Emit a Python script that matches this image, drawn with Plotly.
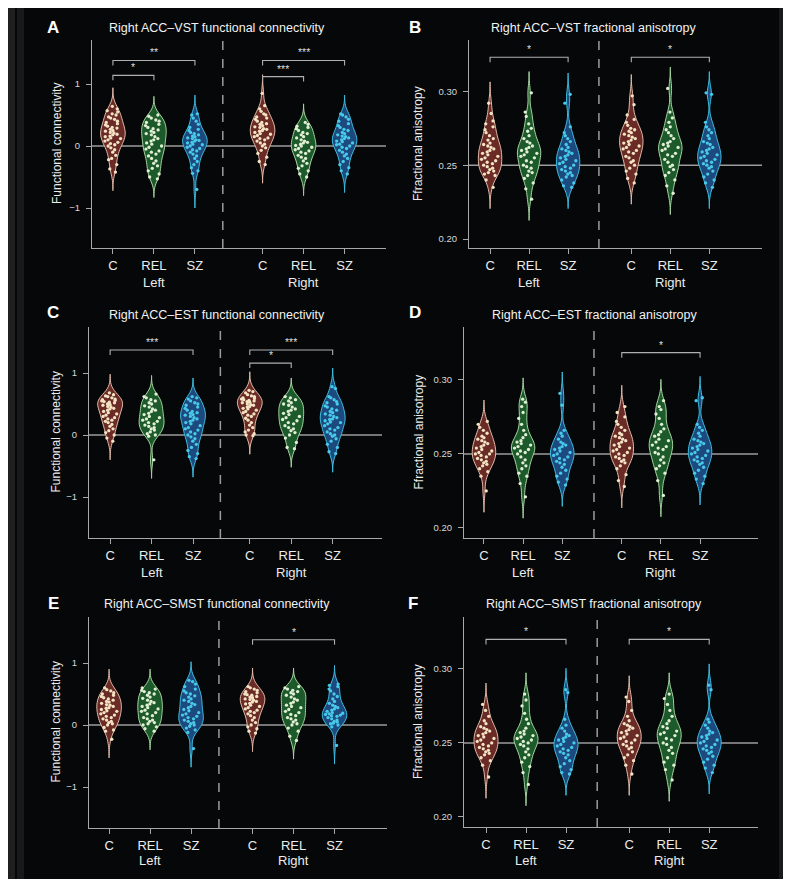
import plotly.graph_objects as go

W, H = 791, 887
OFF = 8  # browser body margin
FW, FH = W - 2 * OFF, H - 2 * OFF

groups = ["C", "REL", "SZ"]
sides = ["Left", "Right"]

# ---------------- Panel A: Right ACC-VST functional connectivity ----------------
a_left_c = [0.64, 0.6, 0.57, 0.55, 0.52, 0.5, 0.47, 0.45, 0.43, 0.4, 0.38, 0.36, 0.34, 0.32, 0.3, 0.29, 0.27, 0.25, 0.24, 0.22, 0.21, 0.19, 0.18, 0.16, 0.15, 0.13, 0.12, 0.1, 0.08, 0.06, 0.04, 0.02, 0.0, -0.03, -0.06, -0.1, -0.15, -0.2, -0.22, -0.3, -0.37, -0.42]
a_left_rel = [0.5, 0.48, 0.45, 0.42, 0.4, 0.38, 0.35, 0.33, 0.3, 0.28, 0.26, 0.24, 0.22, 0.2, 0.18, 0.15, 0.12, 0.1, 0.08, 0.05, 0.03, 0.0, -0.02, -0.05, -0.08, -0.1, -0.13, -0.16, -0.2, -0.24, -0.28, -0.32, -0.36, -0.4, -0.45, -0.5, -0.53]
a_left_sz = [0.52, 0.5, 0.45, 0.4, 0.35, 0.3, 0.27, 0.25, 0.22, 0.2, 0.18, 0.16, 0.15, 0.13, 0.12, 0.1, 0.09, 0.08, 0.06, 0.05, 0.03, 0.02, 0.0, -0.02, -0.04, -0.06, -0.08, -0.1, -0.13, -0.16, -0.2, -0.25, -0.3, -0.35, -0.4, -0.44, -0.7]
a_right_c = [0.85, 0.65, 0.6, 0.56, 0.52, 0.5, 0.47, 0.45, 0.43, 0.4, 0.38, 0.36, 0.35, 0.33, 0.31, 0.3, 0.28, 0.27, 0.25, 0.24, 0.22, 0.2, 0.19, 0.17, 0.15, 0.13, 0.12, 0.1, 0.08, 0.05, 0.03, 0.0, -0.03, -0.07, -0.12, -0.18, -0.25, -0.3]
a_right_rel = [0.38, 0.35, 0.32, 0.3, 0.28, 0.25, 0.22, 0.2, 0.18, 0.15, 0.13, 0.1, 0.08, 0.06, 0.05, 0.03, 0.01, 0.0, -0.02, -0.04, -0.06, -0.08, -0.1, -0.12, -0.15, -0.18, -0.2, -0.24, -0.28, -0.32, -0.36, -0.4, -0.45, -0.5]
a_right_sz = [0.52, 0.5, 0.47, 0.43, 0.4, 0.36, 0.33, 0.3, 0.27, 0.25, 0.22, 0.2, 0.18, 0.16, 0.15, 0.13, 0.12, 0.1, 0.08, 0.07, 0.05, 0.03, 0.02, 0.0, -0.02, -0.04, -0.07, -0.1, -0.13, -0.16, -0.2, -0.25, -0.3, -0.35, -0.4, -0.45]

# ---------------- Panel B: Right ACC-VST fractional anisotropy ----------------
b_left_c = [0.292, 0.285, 0.28, 0.278, 0.276, 0.274, 0.272, 0.27, 0.268, 0.267, 0.265, 0.264, 0.263, 0.262, 0.261, 0.26, 0.259, 0.258, 0.257, 0.256, 0.255, 0.254, 0.253, 0.252, 0.251, 0.25, 0.249, 0.248, 0.247, 0.246, 0.245, 0.244, 0.243, 0.24, 0.235]
b_left_rel = [0.299, 0.286, 0.283, 0.278, 0.275, 0.273, 0.27, 0.268, 0.266, 0.265, 0.263, 0.262, 0.261, 0.26, 0.259, 0.258, 0.257, 0.256, 0.255, 0.253, 0.252, 0.25, 0.249, 0.248, 0.246, 0.245, 0.243, 0.241, 0.238, 0.234, 0.227]
b_left_sz = [0.298, 0.292, 0.276, 0.272, 0.27, 0.268, 0.266, 0.264, 0.262, 0.261, 0.26, 0.259, 0.258, 0.257, 0.256, 0.255, 0.254, 0.253, 0.252, 0.251, 0.25, 0.249, 0.248, 0.247, 0.246, 0.245, 0.244, 0.243, 0.242, 0.24, 0.238, 0.236, 0.235]
b_right_c = [0.297, 0.291, 0.284, 0.281, 0.279, 0.277, 0.275, 0.274, 0.273, 0.272, 0.271, 0.27, 0.269, 0.268, 0.267, 0.266, 0.265, 0.264, 0.263, 0.262, 0.261, 0.26, 0.259, 0.258, 0.256, 0.255, 0.253, 0.252, 0.25, 0.248, 0.246, 0.244, 0.241, 0.238]
b_right_rel = [0.302, 0.286, 0.282, 0.279, 0.276, 0.274, 0.272, 0.27, 0.268, 0.266, 0.265, 0.264, 0.263, 0.262, 0.261, 0.26, 0.258, 0.257, 0.256, 0.254, 0.252, 0.25, 0.249, 0.247, 0.245, 0.243, 0.24, 0.236, 0.231]
b_right_sz = [0.299, 0.298, 0.279, 0.276, 0.274, 0.272, 0.27, 0.268, 0.266, 0.265, 0.264, 0.262, 0.261, 0.26, 0.259, 0.258, 0.257, 0.256, 0.255, 0.254, 0.253, 0.252, 0.251, 0.25, 0.249, 0.248, 0.246, 0.244, 0.242, 0.24, 0.238, 0.235]

# ---------------- Panel C: Right ACC-EST functional connectivity ----------------
c_left_c = [0.68, 0.65, 0.63, 0.62, 0.6, 0.58, 0.57, 0.56, 0.55, 0.54, 0.53, 0.52, 0.5, 0.49, 0.48, 0.46, 0.45, 0.43, 0.42, 0.4, 0.38, 0.36, 0.34, 0.32, 0.3, 0.28, 0.26, 0.24, 0.22, 0.2, 0.17, 0.14, 0.1, 0.07, 0.04, 0.0, -0.05, -0.1]
c_left_rel = [0.66, 0.62, 0.6, 0.57, 0.55, 0.52, 0.5, 0.47, 0.45, 0.42, 0.4, 0.38, 0.35, 0.33, 0.3, 0.28, 0.26, 0.24, 0.22, 0.2, 0.18, 0.16, 0.14, 0.12, 0.1, 0.08, 0.05, 0.02, 0.0, -0.02, -0.4]
c_left_sz = [0.62, 0.6, 0.58, 0.55, 0.52, 0.5, 0.48, 0.45, 0.43, 0.4, 0.38, 0.36, 0.35, 0.33, 0.32, 0.3, 0.28, 0.26, 0.24, 0.22, 0.2, 0.18, 0.15, 0.12, 0.1, 0.08, 0.05, 0.02, 0.0, -0.03, -0.06, -0.1, -0.15, -0.2, -0.25, -0.3, -0.35, -0.38]
c_right_c = [0.72, 0.7, 0.68, 0.65, 0.63, 0.62, 0.6, 0.59, 0.58, 0.57, 0.56, 0.55, 0.54, 0.53, 0.52, 0.5, 0.49, 0.48, 0.46, 0.45, 0.43, 0.42, 0.4, 0.38, 0.36, 0.34, 0.32, 0.3, 0.27, 0.24, 0.2, 0.16, 0.12, 0.08, 0.05, 0.02, 0.0, -0.01]
c_right_rel = [0.62, 0.6, 0.57, 0.55, 0.52, 0.5, 0.48, 0.45, 0.42, 0.4, 0.38, 0.35, 0.33, 0.3, 0.28, 0.25, 0.23, 0.2, 0.18, 0.15, 0.12, 0.1, 0.07, 0.04, 0.0, -0.05, -0.12, -0.2, -0.22]
c_right_sz = [0.78, 0.75, 0.62, 0.6, 0.57, 0.54, 0.52, 0.5, 0.47, 0.45, 0.42, 0.4, 0.38, 0.36, 0.34, 0.32, 0.3, 0.28, 0.26, 0.25, 0.23, 0.21, 0.2, 0.18, 0.15, 0.12, 0.1, 0.08, 0.05, 0.02, 0.0, -0.02, -0.06, -0.1, -0.15, -0.2, -0.27, -0.3]

# ---------------- Panel D: Right ACC-EST fractional anisotropy ----------------
d_left_c = [0.272, 0.27, 0.268, 0.266, 0.264, 0.262, 0.261, 0.26, 0.259, 0.258, 0.257, 0.256, 0.255, 0.254, 0.253, 0.252, 0.251, 0.25, 0.25, 0.249, 0.248, 0.247, 0.246, 0.245, 0.244, 0.243, 0.242, 0.24, 0.238, 0.235, 0.225]
d_left_rel = [0.287, 0.285, 0.282, 0.278, 0.274, 0.27, 0.266, 0.263, 0.261, 0.259, 0.258, 0.257, 0.256, 0.255, 0.254, 0.253, 0.252, 0.251, 0.25, 0.248, 0.246, 0.244, 0.242, 0.24, 0.237, 0.235, 0.23, 0.221]
d_left_sz = [0.291, 0.283, 0.266, 0.264, 0.262, 0.26, 0.258, 0.257, 0.256, 0.255, 0.254, 0.253, 0.252, 0.251, 0.25, 0.249, 0.248, 0.247, 0.246, 0.245, 0.244, 0.243, 0.241, 0.239, 0.237, 0.235, 0.233, 0.231, 0.229]
d_right_c = [0.282, 0.278, 0.275, 0.272, 0.27, 0.268, 0.266, 0.264, 0.263, 0.262, 0.261, 0.26, 0.259, 0.258, 0.257, 0.256, 0.255, 0.254, 0.253, 0.252, 0.251, 0.25, 0.249, 0.248, 0.247, 0.246, 0.245, 0.244, 0.242, 0.24, 0.236, 0.232, 0.228]
d_right_rel = [0.286, 0.282, 0.28, 0.277, 0.274, 0.27, 0.267, 0.265, 0.263, 0.262, 0.26, 0.259, 0.258, 0.256, 0.255, 0.254, 0.253, 0.251, 0.25, 0.248, 0.246, 0.244, 0.242, 0.24, 0.237, 0.232, 0.222]
d_right_sz = [0.288, 0.286, 0.27, 0.268, 0.266, 0.264, 0.262, 0.26, 0.259, 0.258, 0.257, 0.256, 0.255, 0.254, 0.253, 0.252, 0.251, 0.25, 0.249, 0.248, 0.247, 0.246, 0.245, 0.244, 0.243, 0.241, 0.239, 0.237, 0.235, 0.233, 0.23]

# ---------------- Panel E: Right ACC-SMST functional connectivity ----------------
e_left_c = [0.6, 0.57, 0.55, 0.52, 0.5, 0.48, 0.46, 0.44, 0.42, 0.4, 0.38, 0.37, 0.35, 0.33, 0.32, 0.3, 0.28, 0.27, 0.25, 0.23, 0.22, 0.2, 0.18, 0.16, 0.14, 0.12, 0.1, 0.08, 0.06, 0.04, 0.02, 0.0, -0.04, -0.08, -0.1, -0.23]
e_left_rel = [0.6, 0.58, 0.56, 0.54, 0.52, 0.5, 0.48, 0.45, 0.43, 0.4, 0.38, 0.36, 0.34, 0.32, 0.3, 0.28, 0.26, 0.24, 0.22, 0.2, 0.18, 0.15, 0.12, 0.1, 0.08, 0.06, 0.04, 0.02, 0.0, -0.03, -0.06, -0.1]
e_left_sz = [0.72, 0.7, 0.66, 0.62, 0.58, 0.55, 0.52, 0.5, 0.47, 0.45, 0.42, 0.4, 0.38, 0.35, 0.33, 0.3, 0.28, 0.25, 0.23, 0.2, 0.18, 0.16, 0.14, 0.12, 0.1, 0.08, 0.06, 0.04, 0.02, 0.0, -0.02, -0.05, -0.08, -0.12, -0.38]
e_right_c = [0.62, 0.6, 0.58, 0.56, 0.54, 0.52, 0.5, 0.49, 0.48, 0.46, 0.45, 0.44, 0.42, 0.41, 0.4, 0.38, 0.37, 0.35, 0.34, 0.32, 0.3, 0.28, 0.26, 0.24, 0.22, 0.2, 0.18, 0.15, 0.12, 0.08, 0.04, 0.0, -0.03, -0.06, -0.1, -0.13]
e_right_rel = [0.62, 0.6, 0.58, 0.56, 0.54, 0.52, 0.5, 0.48, 0.45, 0.42, 0.4, 0.37, 0.35, 0.32, 0.3, 0.28, 0.25, 0.22, 0.2, 0.17, 0.15, 0.12, 0.1, 0.08, 0.05, 0.02, 0.0, -0.05, -0.1, -0.18, -0.25]
e_right_sz = [0.66, 0.64, 0.62, 0.58, 0.55, 0.5, 0.46, 0.42, 0.38, 0.35, 0.32, 0.3, 0.28, 0.26, 0.24, 0.22, 0.2, 0.19, 0.18, 0.17, 0.16, 0.15, 0.14, 0.12, 0.1, 0.08, 0.06, 0.05, 0.03, 0.02, 0.0, -0.03, -0.33]

# ---------------- Panel F: Right ACC-SMST fractional anisotropy ----------------
f_left_c = [0.276, 0.272, 0.268, 0.265, 0.263, 0.261, 0.26, 0.259, 0.258, 0.257, 0.256, 0.255, 0.254, 0.253, 0.252, 0.251, 0.25, 0.249, 0.248, 0.247, 0.246, 0.245, 0.244, 0.243, 0.242, 0.24, 0.238, 0.235, 0.227]
f_left_rel = [0.283, 0.279, 0.275, 0.27, 0.266, 0.263, 0.26, 0.258, 0.257, 0.256, 0.255, 0.254, 0.253, 0.252, 0.251, 0.25, 0.249, 0.248, 0.246, 0.244, 0.242, 0.24, 0.237, 0.234, 0.23, 0.222]
f_left_sz = [0.286, 0.284, 0.266, 0.262, 0.26, 0.258, 0.256, 0.255, 0.254, 0.253, 0.252, 0.251, 0.25, 0.249, 0.248, 0.247, 0.246, 0.245, 0.244, 0.243, 0.242, 0.24, 0.238, 0.236, 0.234, 0.232, 0.23, 0.229]
f_right_c = [0.281, 0.278, 0.272, 0.268, 0.265, 0.263, 0.262, 0.261, 0.26, 0.259, 0.258, 0.257, 0.256, 0.255, 0.254, 0.253, 0.252, 0.251, 0.25, 0.249, 0.248, 0.247, 0.246, 0.244, 0.242, 0.24, 0.238, 0.235, 0.229]
f_right_rel = [0.283, 0.28, 0.276, 0.272, 0.268, 0.265, 0.263, 0.261, 0.26, 0.258, 0.257, 0.256, 0.255, 0.253, 0.252, 0.25, 0.249, 0.247, 0.245, 0.243, 0.24, 0.237, 0.235, 0.232, 0.225]
f_right_sz = [0.289, 0.286, 0.266, 0.264, 0.262, 0.26, 0.258, 0.257, 0.256, 0.255, 0.254, 0.253, 0.252, 0.251, 0.25, 0.249, 0.248, 0.247, 0.246, 0.245, 0.244, 0.243, 0.241, 0.239, 0.237, 0.235, 0.233, 0.23]

# Titles / labels
titles = ["Right ACC\u2013VST functional connectivity", "Right ACC\u2013VST fractional anisotropy",
          "Right ACC\u2013EST functional connectivity", "Right ACC\u2013EST fractional anisotropy",
          "Right ACC\u2013SMST functional connectivity", "Right ACC\u2013SMST fractional anisotropy"]
letters = ["A", "B", "C", "D", "E", "F"]
fc_label = "Functional connectivity"
fa_label = "Ffractional anisotropy"
fc_ticks = [-1, 0, 1]
fa_ticks = [0.20, 0.25, 0.30]

# significance brackets: (side, group1, group2, y, label)
sig_a = [("Left", "C", "SZ", 1.38, "**"), ("Left", "C", "REL", 1.14, "*"),
         ("Right", "C", "SZ", 1.38, "***"), ("Right", "C", "REL", 1.12, "***")]
sig_b = [("Left", "C", "SZ", 0.3231, "*"), ("Right", "C", "SZ", 0.3231, "*")]
sig_c = [("Left", "C", "SZ", 1.37, "***"), ("Right", "C", "SZ", 1.37, "***"), ("Right", "C", "REL", 1.16, "*")]
sig_d = [("Right", "C", "SZ", 0.3185, "*")]
sig_e = [("Right", "C", "SZ", 1.376, "*")]
sig_f = [("Left", "C", "SZ", 0.320, "*"), ("Right", "C", "SZ", 0.320, "*")]

panel_data = [
    [[a_left_c, a_left_rel, a_left_sz], [a_right_c, a_right_rel, a_right_sz]],
    [[b_left_c, b_left_rel, b_left_sz], [b_right_c, b_right_rel, b_right_sz]],
    [[c_left_c, c_left_rel, c_left_sz], [c_right_c, c_right_rel, c_right_sz]],
    [[d_left_c, d_left_rel, d_left_sz], [d_right_c, d_right_rel, d_right_sz]],
    [[e_left_c, e_left_rel, e_left_sz], [e_right_c, e_right_rel, e_right_sz]],
    [[f_left_c, f_left_rel, f_left_sz], [f_right_c, f_right_rel, f_right_sz]],
]
panel_sigs = [sig_a, sig_b, sig_c, sig_d, sig_e, sig_f]

# ---------------- styling / layout (page pixels) ----------------
layout_px = [
    dict(box=(92, 386, 40, 248), xr=(0.49, 7.66), rs=4.65, dash=3.68, yr=(-1.645, 1.71), kind="fc",
         title=(217, 28), letter=(53, 27), ytitle=57, lr=282),
    dict(box=(469, 762, 40, 248), xr=(0.46, 7.97), rs=4.62, dash=3.79, yr=(0.1939, 0.3348), kind="fa",
         title=(593, 28), letter=(415, 27), ytitle=418, lr=282),
    dict(box=(89, 382, 327, 538), xr=(0.49, 7.56), rs=4.37, dash=3.66, yr=(-1.661, 1.742), kind="fc",
         title=(217, 315), letter=(53, 312), ytitle=55, lr=572),
    dict(box=(464, 758, 327, 538), xr=(0.49, 8.0), rs=4.52, dash=3.81, yr=(0.1932, 0.3358), kind="fa",
         title=(594, 315), letter=(415, 312), ytitle=418, lr=572),
    dict(box=(89, 387, 617, 828), xr=(0.51, 7.78), rs=4.5, dash=3.68, yr=(-1.661, 1.742), kind="fc",
         title=(217, 604), letter=(53, 603), ytitle=55, lr=860),
    dict(box=(464, 758, 617, 827), xr=(0.45, 7.8), rs=4.58, dash=3.78, yr=(0.1932, 0.3351), kind="fa",
         title=(594, 604), letter=(413, 603), ytitle=418, lr=860),
]

fill_cols = {"C": "#6a2a26", "REL": "#1d5a2b", "SZ": "#1d4a7e"}
line_cols = {"C": "#e3bcaa", "REL": "#a6d6a0", "SZ": "#3dbfe2"}
pt_cols = {"C": "#f4e4c4", "REL": "#e1efd5", "SZ": "#48caea"}
AX = "#a8a8a8"
TXT = "#ececec"
FONT = "Liberation Sans, Arial, Helvetica, sans-serif"
BG = "#050708"


def px(x):
    return (x - OFF) / FW


def py(y):
    return 1 - (y - OFF) / FH


fig = go.Figure()
shapes = []
annotations = []

# background frame
shapes.append(dict(type="rect", xref="paper", yref="paper", x0=px(8), x1=px(784), y0=py(879), y1=py(8),
                   fillcolor=BG, line=dict(width=0), layer="below"))
shapes.append(dict(type="rect", xref="paper", yref="paper", x0=px(8), x1=px(15), y0=py(879), y1=py(8),
                   fillcolor="#1f1f1f", line=dict(width=0), layer="below"))
shapes.append(dict(type="rect", xref="paper", yref="paper", x0=px(17), x1=px(24), y0=py(879), y1=py(8),
                   fillcolor="#191919", line=dict(width=0), layer="below"))
shapes.append(dict(type="rect", xref="paper", yref="paper", x0=px(779), x1=px(784), y0=py(879), y1=py(8),
                   fillcolor="#1a1a1a", line=dict(width=0), layer="below"))

layout_axes = {}
for i, (cfg, pdata, sigs) in enumerate(zip(layout_px, panel_data, panel_sigs)):
    n = i + 1
    xa = "x" if n == 1 else f"x{n}"
    ya = "y" if n == 1 else f"y{n}"
    xl, xr_, yt, yb = cfg["box"]
    positions = {("Left", g): 1 + k for k, g in enumerate(groups)}
    positions.update({("Right", g): cfg["rs"] + k for k, g in enumerate(groups)})
    bw = 0.1 if cfg["kind"] == "fc" else 0.0048

    for s_idx, side in enumerate(sides):
        for g_idx, g in enumerate(groups):
            vals = pdata[s_idx][g_idx]
            fig.add_trace(go.Violin(
                x0=positions[(side, g)], y=vals, xaxis=xa, yaxis=ya,
                width=0.6, scalemode="width", bandwidth=bw,
                spanmode="manual", span=[min(vals) - 3 * bw, max(vals) + 3 * bw],
                fillcolor=fill_cols[g], line=dict(color=line_cols[g], width=1),
                points="all", pointpos=0, jitter=0.75,
                marker=dict(size=3.3, color=pt_cols[g], line=dict(width=0)),
                opacity=1, showlegend=False, hoverinfo="skip"))

    yticks = fc_ticks if cfg["kind"] == "fc" else fa_ticks
    tickvals = [positions[(s, g)] for s in sides for g in groups]
    layout_axes["xaxis" if n == 1 else f"xaxis{n}"] = dict(
        domain=[px(xl), px(xr_)], anchor=ya, range=list(cfg["xr"]), type="linear",
        tickvals=tickvals, ticktext=groups * 2, showline=True, linecolor=AX, linewidth=1.2,
        ticks="outside", ticklen=5, tickcolor=AX, tickwidth=1.2, showgrid=False, zeroline=False,
        tickfont=dict(size=13, color=TXT, family=FONT), fixedrange=True)
    layout_axes["yaxis" if n == 1 else f"yaxis{n}"] = dict(
        domain=[py(yb), py(yt)], anchor=xa, range=list(cfg["yr"]),
        tickvals=yticks, tickformat=("d" if cfg["kind"] == "fc" else ".2f"),
        showline=True, linecolor=AX, linewidth=1.2, ticks="outside", ticklen=5, tickcolor=AX,
        tickwidth=1.2, showgrid=False, zeroline=False, ticklabelstandoff=4,
        tickfont=dict(size=9.5, color="#d8d8d8", family=FONT), fixedrange=True)

    ref = 0 if cfg["kind"] == "fc" else 0.25
    shapes.append(dict(type="line", xref=f"{xa} domain", yref=ya, x0=0, x1=1, y0=ref, y1=ref,
                       line=dict(color="#9c9c9c", width=1.5), layer="below"))
    shapes.append(dict(type="line", xref=xa, yref=f"{ya} domain", x0=cfg["dash"], x1=cfg["dash"], y0=0, y1=1,
                       line=dict(color="#9c9c9c", width=1.5, dash="dash"), layer="below"))

    drop = 0.08 if cfg["kind"] == "fc" else 0.0034
    for side, g1, g2, yv, lab in sigs:
        x1p, x2p = positions[(side, g1)], positions[(side, g2)]
        shapes.append(dict(type="path", xref=xa, yref=ya,
                           path=f"M {x1p},{yv - drop} L {x1p},{yv} L {x2p},{yv} L {x2p},{yv - drop}",
                           line=dict(color="#b0b0b0", width=1.1)))
        annotations.append(dict(xref=xa, yref=ya, x=(x1p + x2p) / 2, y=yv, text=lab, showarrow=False,
                                yanchor="bottom", yshift=0, font=dict(size=10.5, color="#dddddd", family=FONT)))

    for side in sides:
        annotations.append(dict(xref=xa, yref="paper", x=positions[(side, "REL")], y=py(cfg["lr"]),
                                text=side, showarrow=False, yanchor="middle",
                                font=dict(size=13, color=TXT, family=FONT)))
    tx, ty = cfg["title"]
    annotations.append(dict(xref="paper", yref="paper", x=px(tx), y=py(ty), text=titles[i], showarrow=False,
                            xanchor="center", yanchor="middle", font=dict(size=12.5, color="#f2f2f2", family=FONT)))
    lx, ly = cfg["letter"]
    annotations.append(dict(xref="paper", yref="paper", x=px(lx), y=py(ly), text=f"<b>{letters[i]}</b>",
                            showarrow=False, xanchor="center", yanchor="middle",
                            font=dict(size=17, color="#ffffff", family=FONT)))
    annotations.append(dict(xref="paper", yref="paper", x=px(cfg["ytitle"]), y=py((yt + yb) / 2),
                            text=(fc_label if cfg["kind"] == "fc" else fa_label), textangle=-90,
                            showarrow=False, xanchor="center", yanchor="middle",
                            font=dict(size=12, color=TXT, family=FONT)))

fig.update_layout(
    width=FW, height=FH, margin=dict(l=0, r=0, t=0, b=0),
    paper_bgcolor="#ffffff", plot_bgcolor="rgba(0,0,0,0)",
    violinmode="overlay", showlegend=False,
    shapes=shapes, annotations=annotations,
    font=dict(family=FONT, color=TXT),
    **layout_axes,
)

fig.write_html("out.html")
